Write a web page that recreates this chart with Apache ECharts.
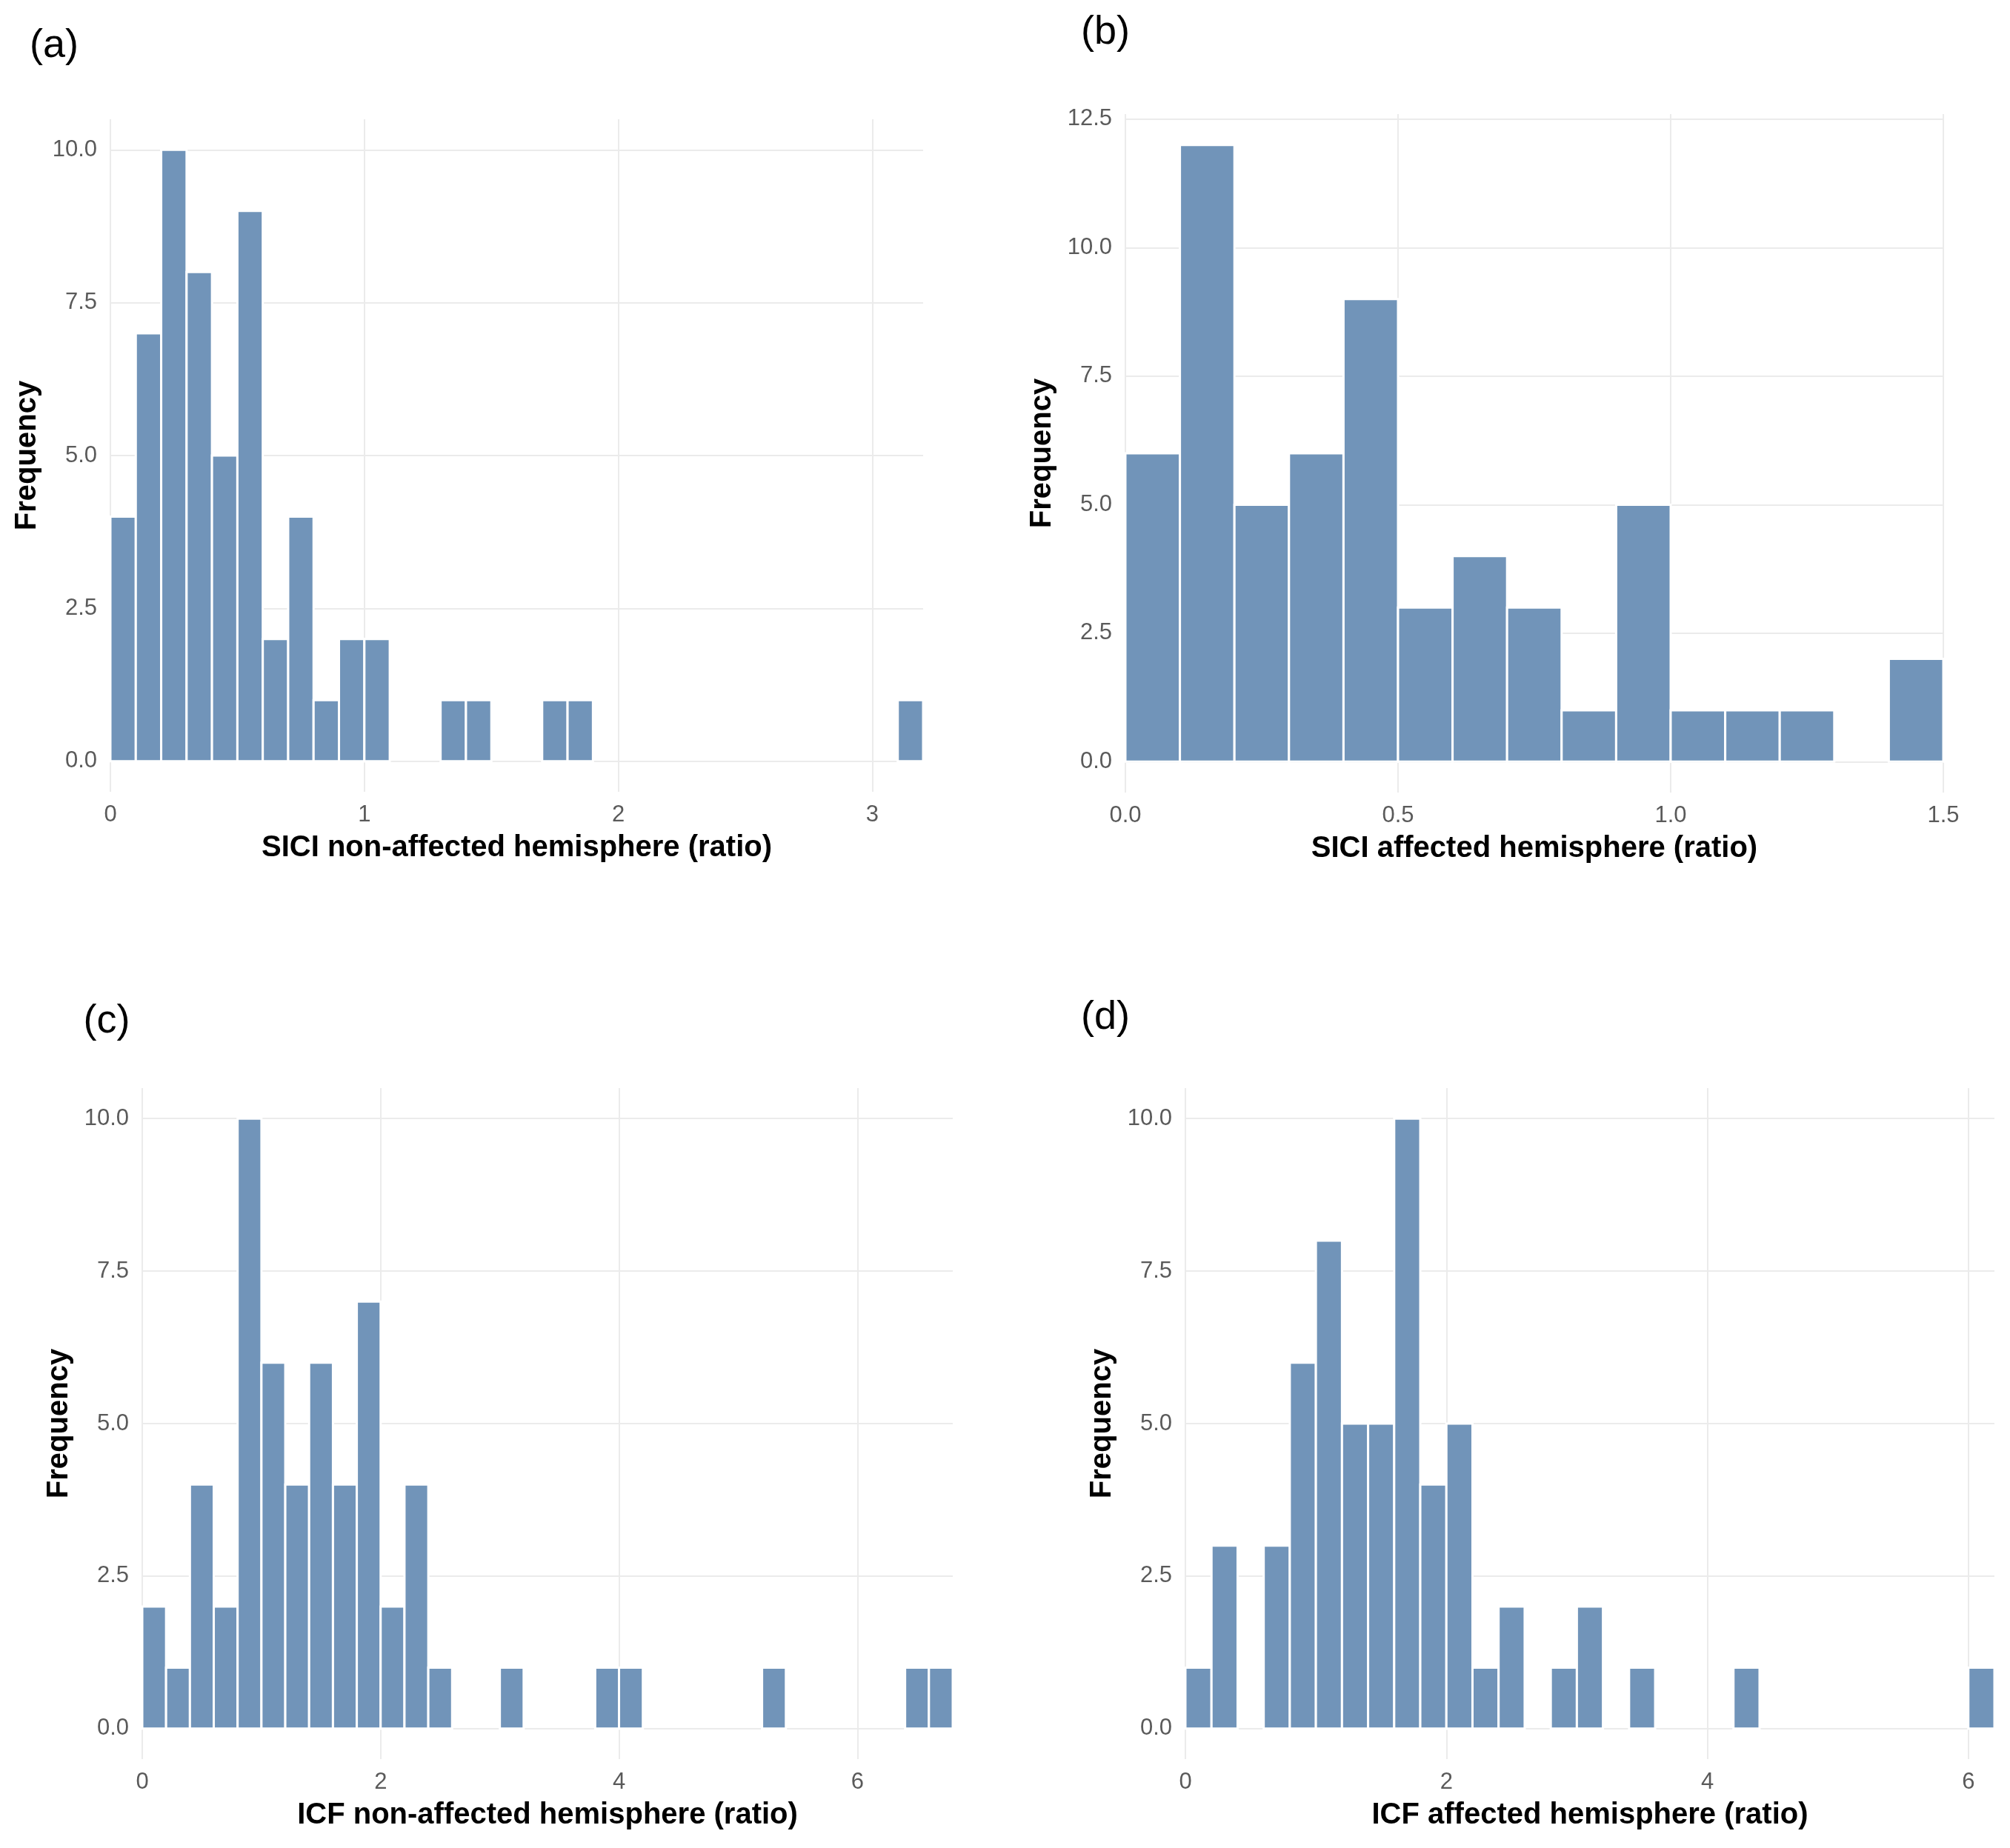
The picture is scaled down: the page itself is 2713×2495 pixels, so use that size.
<!DOCTYPE html>
<html>
<head>
<meta charset="utf-8">
<script src="https://cdn.jsdelivr.net/npm/echarts@6/dist/echarts.min.js"></script>
<style>
html,body{margin:0;padding:0;background:#fff;}
#chart{width:2713px;height:2495px;}
</style>
</head>
<body>
<div id="chart"></div>
<script>
// ---- Data (histogram counts per bin, bins start at 0) ----
const binWidthA = 0.1;
const countsA = [4,7,10,8,5,9,2,4,1,2,2,0,0,1,1,0,0,1,1,0,0,0,0,0,0,0,0,0,0,0,0,1];
const binWidthB = 0.1;
const countsB = [6,12,5,6,9,3,4,3,1,5,1,1,1,0,2];
const binWidthC = 0.2;
const countsC = [2,1,4,2,10,6,4,6,4,7,2,4,1,0,0,1,0,0,0,1,1,0,0,0,0,0,1,0,0,0,0,0,1,1];
const binWidthD = 0.2;
const countsD = [1,3,0,3,6,8,5,5,10,4,5,1,2,0,1,2,0,1,0,0,0,1,0,0,0,0,0,0,0,0,1];

const xTicksA = [0,1,2,3];
const xTicksB = [0,0.5,1.0,1.5];
const xTicksC = [0,2,4,6];
const xTicksD = [0,2,4,6];
const yTicks10 = [0,2.5,5,7.5,10];
const yTicks12 = [0,2.5,5,7.5,10,12.5];

const titles = {
  a: 'SICI non-affected hemisphere (ratio)',
  b: 'SICI affected hemisphere (ratio)',
  c: 'ICF non-affected hemisphere (ratio)',
  d: 'ICF affected hemisphere (ratio)'
};
const panelLetters = ['(a)','(b)','(c)','(d)'];

function toBins(counts, w){
  const out = [];
  counts.forEach((c,i)=>{ if(c>0) out.push([+(i*w).toFixed(4), +((i+1)*w).toFixed(4), c]); });
  return out;
}

const BAR = '#7194B9';
const GRIDC = '#EBEBEB';
const TICKC = '#5a5a5a';
const FONT = '"Liberation Sans", Arial, Helvetica, sans-serif';

const grids = [
  {left:149, width:1097, top:161, height:908},
  {left:1519, width:1104, top:154, height:916},
  {left:192, width:1094, top:1469, height:906},
  {left:1600, width:1092, top:1469, height:906}
];

function xAxisDef(i, min, max, ticks, dec, name){
  return {
    type:'value', gridIndex:i, min:min, max:max, name:name,
    nameLocation:'middle', nameGap:56,
    nameTextStyle:{fontFamily:FONT, fontSize:40, fontWeight:'bold', color:'#000'},
    axisLine:{show:false},
    axisTick:{show:false, customValues:ticks},
    axisLabel:{customValues:ticks, fontFamily:FONT, fontSize:31, color:TICKC, margin:16,
      formatter:v=>v.toFixed(dec)},
    splitLine:{show:true, customValues:ticks, lineStyle:{color:GRIDC, width:2}}
  };
}
function yAxisDef(i, min, max, ticks){
  return {
    type:'value', gridIndex:i, min:min, max:max, name:'Frequency',
    nameLocation:'middle', nameGap:92,
    nameTextStyle:{fontFamily:FONT, fontSize:40, fontWeight:'bold', color:'#000'},
    axisLine:{show:false},
    axisTick:{show:false, customValues:ticks},
    axisLabel:{customValues:ticks, fontFamily:FONT, fontSize:31, color:TICKC, margin:18,
      formatter:v=>v.toFixed(1)},
    splitLine:{show:true, customValues:ticks, lineStyle:{color:GRIDC, width:2}}
  };
}

function renderBar(params, api){
  const p0 = api.coord([api.value(0), 0]);
  const p1 = api.coord([api.value(1), api.value(2)]);
  return {
    type:'rect',
    shape:{x:p0[0], y:p1[1], width:p1[0]-p0[0], height:p0[1]-p1[1]},
    style:{fill:BAR, stroke:'#ffffff', lineWidth:3}
  };
}
function histSeries(i, data){
  return {type:'custom', xAxisIndex:i, yAxisIndex:i, renderItem:renderBar,
    encode:{x:[0,1], y:2}, data:data, animation:false};
}

const letterPos = [[73,62],[1492,44],[144,1379],[1492,1374]];

const option = {
  backgroundColor:'#fff',
  animation:false,
  grid: grids,
  xAxis:[
    xAxisDef(0, 0, 3.2, xTicksA, 0, titles.a),
    xAxisDef(1, 0, 1.5, xTicksB, 1, titles.b),
    xAxisDef(2, 0, 6.8, xTicksC, 0, titles.c),
    xAxisDef(3, 0, 6.2, xTicksD, 0, titles.d)
  ],
  yAxis:[
    yAxisDef(0, -0.5, 10.5, yTicks10),
    yAxisDef(1, -0.6, 12.6, yTicks12),
    yAxisDef(2, -0.5, 10.5, yTicks10),
    yAxisDef(3, -0.5, 10.5, yTicks10)
  ],
  series:[
    histSeries(0, toBins(countsA, binWidthA)),
    histSeries(1, toBins(countsB, binWidthB)),
    histSeries(2, toBins(countsC, binWidthC)),
    histSeries(3, toBins(countsD, binWidthD))
  ],
  graphic: panelLetters.map((t,i)=>({
    type:'text', x:letterPos[i][0], y:letterPos[i][1],
    style:{text:t, fontFamily:FONT, fontSize:54, fill:'#000', align:'center', verticalAlign:'middle'}
  }))
};

const chart = echarts.init(document.getElementById('chart'), null, {renderer:'canvas'});
chart.setOption(option);
</script>
</body>
</html>
